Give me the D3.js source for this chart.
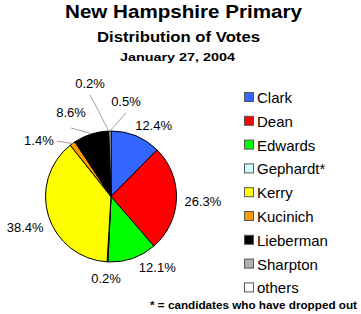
<!DOCTYPE html>
<html>
<head>
<meta charset="utf-8">
<script src="https://cdn.jsdelivr.net/npm/d3@7"></script>
<style>
  body { margin: 0; background: #fff; }
  svg { display: block; font-family: Arial, "Liberation Sans", sans-serif; }
</style>
</head>
<body>
<div id="chart"></div>
<script>
// Chart data
const candidates = ["Clark", "Dean", "Edwards", "Gephardt*", "Kerry", "Kucinich", "Lieberman", "Sharpton", "others"];
const votes = [12.4, 26.3, 12.1, 0.2, 38.4, 1.4, 8.6, 0.2, 0.5];
const colors = ["#3366ff", "#ff0000", "#00ff00", "#ccffff", "#ffff00", "#ff9900", "#000000", "#b0b0b0", "#ffffff"];

// Label placement (degrees clockwise from top, radius from centre) and which get leader lines
const labelAngle = [31, 93, 147, 183.5, 250.5, 308, 334.7, 349.5, 8.9];
const labelRadius = [83, 92, 85, 82, 91, 91.5, 93.5, 115.4, 96.7];
const hasLeader = [false, false, false, false, false, true, true, true, true];

const width = 361, height = 314;
const cx = 111, cy = 196.5, r = 65.5;

const svg = d3.select("#chart").append("svg")
    .attr("width", width)
    .attr("height", height);

// Titles
function fitText(sel, len) {
    sel.attr("textLength", len).attr("lengthAdjust", "spacingAndGlyphs");
}
svg.append("text").attr("x", 183.5).attr("y", 18)
    .attr("text-anchor", "middle").attr("font-weight", "bold").attr("font-size", 18)
    .text("New Hampshire Primary").call(fitText, 237);
svg.append("text").attr("x", 178.5).attr("y", 41.5)
    .attr("text-anchor", "middle").attr("font-weight", "bold").attr("font-size", 14.5)
    .text("Distribution of Votes").call(fitText, 163);
svg.append("text").attr("x", 177.5).attr("y", 60.5)
    .attr("text-anchor", "middle").attr("font-weight", "bold").attr("font-size", 11.5)
    .text("January 27, 2004").call(fitText, 115);

// Pie
const pie = d3.pie().sort(null).value(d => d);
const arcs = pie(votes);
const arc = d3.arc().innerRadius(0).outerRadius(r);

const g = svg.append("g").attr("transform", `translate(${cx},${cy})`);

g.selectAll("path.slice")
    .data(arcs)
    .join("path")
    .attr("class", "slice")
    .attr("d", arc)
    .attr("fill", (d, i) => colors[i])
    .attr("stroke", "#000")
    .attr("stroke-width", 1)
    .attr("stroke-linejoin", "round");

// Labels
const rad = deg => deg * Math.PI / 180;
const polar = (deg, rr) => [Math.sin(rad(deg)) * rr, -Math.cos(rad(deg)) * rr];

arcs.forEach((d, i) => {
    const [lx, ly] = polar(labelAngle[i], labelRadius[i]);
    if (hasLeader[i]) {
        const mid = (d.startAngle + d.endAngle) / 2;
        const ex = Math.sin(mid) * r, ey = -Math.cos(mid) * r;
        // start leader at the label's edge nearest the slice
        let sx, sy;
        if (i === 5) { sx = lx + 18; sy = ly + 1; }
        else if (i === 6) { sx = lx; sy = ly + 16; }
        else { sx = lx; sy = ly + 12; }
        const pts = i === 6 ? [[sx, sy], [sx + 18, sy + 5], [ex, ey]]
                  : i === 7 ? [[sx, sy], [sx + 4, sy + 7], [ex, ey]]
                  : [[sx, sy], [ex, ey]];
        g.append("path")
            .attr("d", d3.line()(pts))
            .attr("fill", "none")
            .attr("stroke", "#a0a0a0")
            .attr("stroke-width", 1);
    }
    g.append("text")
        .attr("x", lx)
        .attr("y", ly)
        .attr("dy", "0.36em")
        .attr("text-anchor", "middle")
        .attr("font-size", 13)
        .attr("fill", "#000")
        .text(d3.format(".1f")(votes[i]) + "%");
});

// Legend
const legend = svg.append("g").attr("transform", "translate(244,92)");
const row = legend.selectAll("g")
    .data(candidates)
    .join("g")
    .attr("transform", (d, i) => `translate(0,${i * 23.8})`);

row.append("rect")
    .attr("x", 0.5).attr("y", 0.5)
    .attr("width", 9).attr("height", 9)
    .attr("fill", (d, i) => colors[i])
    .attr("stroke", "#555")
    .attr("stroke-width", 1);

row.append("text")
    .attr("x", 13)
    .attr("y", 5.5)
    .attr("dy", "0.36em")
    .attr("font-size", 15)
    .text(d => d);

// Footnote
svg.append("text").attr("x", 150).attr("y", 309)
    .attr("font-weight", "bold").attr("font-size", 10)
    .text("* = candidates who have dropped out").call(fitText, 207);
</script>
</body>
</html>
